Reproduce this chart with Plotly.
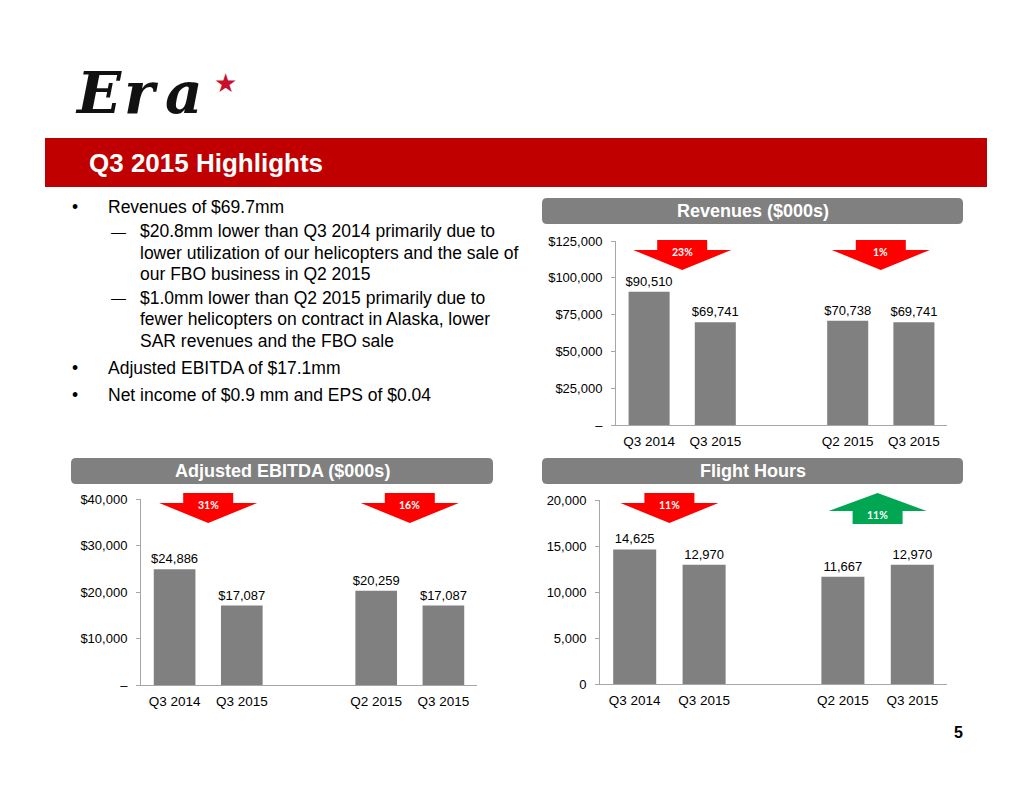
import plotly.graph_objects as go

# chart values
periods = ["Q3 2014", "Q3 2015", "Q2 2015", "Q3 2015"]
revenues = [90510, 69741, 70738, 69741]
adj_ebitda = [24886, 17087, 20259, 17087]
flight_hours = [14625, 12970, 11667, 12970]

rev_changes = ["23%", "1%"]
ebitda_changes = ["31%", "16%"]
hours_changes = ["11%", "11%"]
hours_dirs = ["down", "up"]

rev_ticks = [0, 25000, 50000, 75000, 100000, 125000]
ebitda_ticks = [0, 10000, 20000, 30000, 40000]
hours_ticks = [0, 5000, 10000, 15000, 20000]

bullet_lines = [
    ("•", "Revenues of $69.7mm"),
    ("—", "$20.8mm lower than Q3 2014 primarily due to"),
    ("", "lower utilization of our helicopters and the sale of"),
    ("", "our FBO business in Q2 2015"),
    ("—", "$1.0mm lower than Q2 2015 primarily due to"),
    ("", "fewer helicopters on contract in Alaska, lower"),
    ("", "SAR revenues and the FBO sale"),
    ("•", "Adjusted EBITDA of $17.1mm"),
    ("•", "Net income of $0.9 mm and EPS of $0.04"),
]

W, H = 1034, 799
SLOTS = [0, 1, 3, 4]  # empty slot between the two comparisons
FONT = "Liberation Sans, Arial, sans-serif"
GREY = "#808080"
AXIS = "#A6A6A6"


def fx(x):
    return x / W


def fy(y):
    return 1 - y / H


def note(x, y, text, size, color="black", family=FONT, xanchor="center"):
    return dict(x=fx(x), y=fy(y), xref="paper", yref="paper", showarrow=False,
                xanchor=xanchor, yanchor="middle", text=text,
                font=dict(family=family, size=size, color=color))


def rounded_box(x0, y0, x1, y1, r=5):
    a, b, c, d = fx(x0), fy(y0), fx(x1), fy(y1)
    rx, ry = r / W, r / H
    return (f"M{a + rx},{b} L{c - rx},{b} Q{c},{b} {c},{b - ry} "
            f"L{c},{d + ry} Q{c},{d} {c - rx},{d} L{a + rx},{d} "
            f"Q{a},{d} {a},{d + ry} L{a},{b - ry} Q{a},{b} {a + rx},{b} Z")


def arrow_path(cx, top, direction):
    sw, hw = 25, 49
    if direction == "down":
        pts = [(cx - sw, top), (cx + sw, top), (cx + sw, top + 10), (cx + hw, top + 10),
               (cx, top + 30), (cx - hw, top + 10), (cx - sw, top + 10)]
    else:
        pts = [(cx, top), (cx + hw, top + 18), (cx + sw, top + 18), (cx + sw, top + 31),
               (cx - sw, top + 31), (cx - sw, top + 18), (cx - hw, top + 18)]
    return "M" + " L".join(f"{fx(x)},{fy(y)}" for x, y in pts) + " Z"


panels = [
    dict(xa="x", ya="y", vals=revenues, money=True, ticks=rev_ticks,
         px=(616, 947), py=(241, 425), title="Revenues ($000s)", box=(542, 198, 963, 224),
         changes=rev_changes, dirs=["down", "down"], arrow_top=240),
    dict(xa="x2", ya="y2", vals=adj_ebitda, money=True, ticks=ebitda_ticks,
         px=(141, 477), py=(499, 685), title="Adjusted EBITDA ($000s)", box=(71, 458, 493, 484),
         changes=ebitda_changes, dirs=["down", "down"], arrow_top=493),
    dict(xa="x3", ya="y3", vals=flight_hours, money=False, ticks=hours_ticks,
         px=(600, 947), py=(500, 684), title="Flight Hours", box=(542, 458, 963, 484),
         changes=hours_changes, dirs=hours_dirs, arrow_top=493),
]

fig = go.Figure()
shapes, annotations = [], []
layout_axes = {}

for p in panels:
    if p["money"]:
        labels = [f"${v:,}" for v in p["vals"]]
        ticktext = ["–"] + [f"${t:,}" for t in p["ticks"][1:]]
    else:
        labels = [f"{v:,}" for v in p["vals"]]
        ticktext = [f"{t:,}" for t in p["ticks"]]

    fig.add_trace(go.Bar(
        x=SLOTS, y=p["vals"], text=labels, textposition="outside",
        constraintext="none", cliponaxis=False, width=0.62,
        marker=dict(color=GREY, line=dict(width=0)),
        textfont=dict(family=FONT, size=13, color="black"),
        xaxis=p["xa"], yaxis=p["ya"], showlegend=False, hoverinfo="skip",
    ))

    xkey = "xaxis" + p["xa"][1:]
    ykey = "yaxis" + p["ya"][1:]
    layout_axes[xkey] = dict(
        domain=[fx(p["px"][0]), fx(p["px"][1])], range=[-0.5, 4.5],
        tickvals=SLOTS, ticktext=periods, anchor=p["ya"],
        showline=True, linecolor=AXIS, linewidth=1, ticks="", ticklabelstandoff=4,
        showgrid=False, zeroline=False, fixedrange=True, automargin=False,
        tickfont=dict(family=FONT, size=13.5, color="black"),
    )
    layout_axes[ykey] = dict(
        domain=[fy(p["py"][1]), fy(p["py"][0])], range=[0, p["ticks"][-1]],
        tickvals=p["ticks"], ticktext=ticktext, anchor=p["xa"],
        showline=True, linecolor=AXIS, linewidth=1, ticks="outside",
        ticklen=4, tickcolor=AXIS, ticklabelstandoff=6,
        showgrid=False, zeroline=False, fixedrange=True, automargin=False,
        tickfont=dict(family=FONT, size=13, color="black"),
    )

    # grey title bar
    bx0, by0, bx1, by1 = p["box"]
    shapes.append(dict(type="path", xref="paper", yref="paper",
                       path=rounded_box(bx0, by0, bx1, by1),
                       fillcolor=GREY, line=dict(width=0), layer="below"))
    annotations.append(note((bx0 + bx1) / 2, (by0 + by1) / 2, f"<b>{p['title']}</b>",
                            18, "white"))

    # change arrows between each pair of bars
    slot_w = (p["px"][1] - p["px"][0]) / 5
    for i, (chg, d) in enumerate(zip(p["changes"], p["dirs"])):
        mid = (SLOTS[2 * i] + SLOTS[2 * i + 1]) / 2
        cx = p["px"][0] + (mid + 0.5) * slot_w
        top = p["arrow_top"]
        color = "#FF0000" if d == "down" else "#00A651"
        shapes.append(dict(type="path", xref="paper", yref="paper",
                           path=arrow_path(cx, top, d), fillcolor=color,
                           line=dict(width=0)))
        ty = top + 12 if d == "down" else top + 22
        annotations.append(note(cx, ty, f"<b>{chg}</b>", 10.5, "white",
                                "Lato, Open Sans, sans-serif"))

# red header bar
shapes.append(dict(type="rect", xref="paper", yref="paper",
                   x0=fx(45), x1=fx(987), y0=fy(187), y1=fy(138),
                   fillcolor="#C00000", line=dict(width=0), layer="below"))
annotations.append(note(87, 163, "<b>Q3 2015 Highlights</b>", 26, "white", xanchor="left"))

# bullet text
line_y = [207, 231, 253, 274, 298, 319, 341, 368, 395]
for (mark, txt), yy in zip(bullet_lines, line_y):
    if mark == "•":
        annotations.append(note(70, yy, mark, 17.5, xanchor="left"))
        tx = 106
    else:
        if mark:
            annotations.append(note(109, yy, mark, 15, xanchor="left"))
        tx = 138
    annotations.append(note(tx, yy, txt, 17.5, xanchor="left"))

# logo
for ch, lx in zip("Era", [98, 141, 184]):
    annotations.append(note(lx, 93, f"<b><i>{ch}</i></b>", 58, "#111111",
                            "DejaVu Serif, serif"))
annotations.append(note(225, 83, "★", 26, "#C8102E", "DejaVu Sans"))

# page number
annotations.append(note(958, 732, "<b>5</b>", 16))

fig.update_layout(
    width=W, height=H, margin=dict(l=0, r=0, t=0, b=0, pad=0, autoexpand=False),
    paper_bgcolor="white", plot_bgcolor="white",
    bargap=0.38, shapes=shapes, annotations=annotations,
    **layout_axes,
)

fig.write_html("out.html", config={"displayModeBar": False},
               post_script="document.body.style.margin='0';")
